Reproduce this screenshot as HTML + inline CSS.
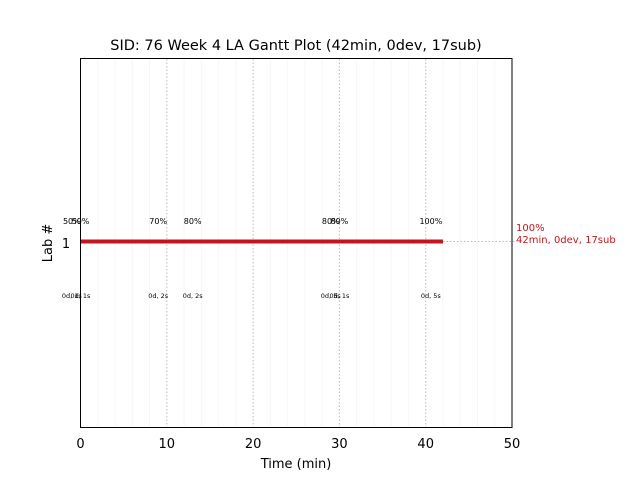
<!DOCTYPE html>
<html><head><meta charset="utf-8"><style>
body{margin:0;background:#fff}
svg{display:block;font-family:"DejaVu Sans","Liberation Sans",sans-serif}
</style></head><body>
<svg id="chart" width="640" height="480">
<rect width="640" height="480" fill="#fff"/>
<text x="296" y="50" font-size="14.5" text-anchor="middle">SID: 76 Week 4 LA Gantt Plot (42min, 0dev, 17sub)</text>
<g id="grid"></g>
<g id="marks"></g>
<rect x="80.5" y="58.5" width="431.5" height="369" fill="none" stroke="#000" stroke-width="1"/>
<g id="xticks"></g>
<text x="296" y="468" font-size="13" text-anchor="middle">Time (min)</text>
<text x="52" y="243" font-size="13" text-anchor="middle" transform="rotate(-90 52 243)">Lab #</text>
<text x="66" y="248" font-size="13" text-anchor="middle">1</text>
</svg>
<script>
const xTicks = [0, 10, 20, 30, 40, 50];
const barStart = [0];
const barEnd = [42];
const subTimes = [-1, 0, 9, 13, 29, 30, 40.6];
const subPct = ["50%", "50%", "70%", "80%", "80%", "80%", "100%"];
const subDur = ["0d, 1s", "0d, 1s", "0d, 2s", "0d, 2s", "0d, 5s", "0d, 1s", "0d, 5s"];
const endLabel = ["100%", "42min, 0dev, 17sub"];

const NS = "http://www.w3.org/2000/svg";
const x0 = 80.5, x1 = 512, xmin = 0, xmax = 50;
const X = v => x0 + (v - xmin) / (xmax - xmin) * (x1 - x0);
const barY = 241.5;
function mk(tag, attrs, parent, txt) {
  const e = document.createElementNS(NS, tag);
  for (const k in attrs) e.setAttribute(k, attrs[k]);
  if (txt !== undefined) e.textContent = txt;
  parent.appendChild(e);
  return e;
}
const grid = document.getElementById('grid');
for (let m = 2; m < 50; m += 2) {
  if (m % 10 === 0) continue;
  const l = mk('line', {x1: X(m), x2: X(m), y1: 59, y2: 427, stroke: '#f7f7f7', 'stroke-width': 1}, grid);
  
  
}
const xt = document.getElementById('xticks');
xTicks.forEach(t => {
  if (t > 0 && t < 50) {
    const l = mk('line', {x1: X(t), x2: X(t), y1: 59, y2: 427, stroke: '#bbb', 'stroke-width': 1, 'stroke-dasharray': '1.5,2'}, grid);
    
    
  }
  const tx = mk('text', {x: X(t), y: 448, 'font-size': 13, 'text-anchor': 'middle'}, xt, String(t));
  
  
});
const marks = document.getElementById('marks');
const dl = mk('line', {x1: X(barEnd[0]), x2: 515, y1: barY, y2: barY, stroke: '#bbb', 'stroke-width': 1, 'stroke-dasharray': '1.5,2'}, marks);


const bar = mk('rect', {x: X(barStart[0]), y: barY - 2, width: X(barEnd[0]) - X(barStart[0]), height: 4, fill: '#c0171c'}, marks);


subTimes.forEach((t, i) => {
  const a = mk('text', {x: X(t), y: 224, 'font-size': 8, 'text-anchor': 'middle', fill: '#000'}, marks, subPct[i]);
  
  
  const b = mk('text', {x: X(t), y: 298, 'font-size': 6.5, 'text-anchor': 'middle', fill: '#000'}, marks, subDur[i]);
  
  
});
endLabel.forEach((s, i) => {
  const e = mk('text', {x: 516, y: 231 + i * 12, 'font-size': 10, fill: '#c0171c'}, marks, s);
  
  
});
</script>
</body></html>
